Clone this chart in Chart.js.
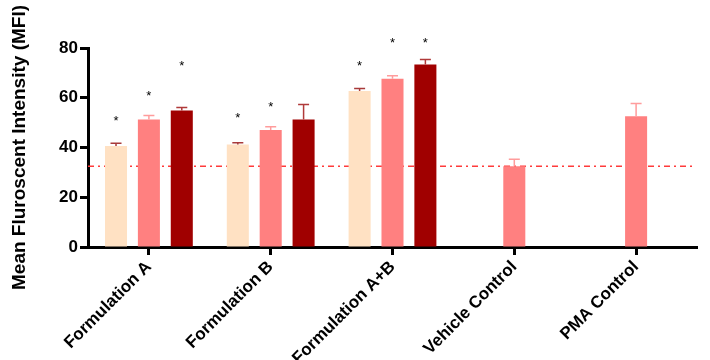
<!DOCTYPE html>
<html lang="en">
<head>
  <meta charset="UTF-8">
  <title>Mean Fluorescent Intensity</title>
  <script src="https://cdn.jsdelivr.net/npm/chart.js"></script>
  <style>
    body { margin: 0; background: #fff; }
    .wrap { width: 710px; height: 360px; }
  </style>
</head>
<body>
<div class="wrap"><canvas id="mfiChart"></canvas></div>
<script>
// values
const categories = ['Formulation A', 'Formulation B', 'Formulation A+B', 'Vehicle Control', 'PMA Control'];
const lowDose  = [40.6, 41.2, 62.7, null, null];
const midDose  = [51.3, 47.0, 67.6, 32.5, 52.6];
const highDose = [54.9, 51.3, 73.4, null, null];
const lowErr  = [1.1, 0.7, 1.0, null, null];
const midErr  = [1.6, 1.3, 1.2, 2.8, 5.1];
const highErr = [1.2, 6.0, 2.0, null, null];
const lowStar  = [51.8, 53.0, 73.6, null, null];
const midStar  = [61.7, 57.5, 83.1, null, null];
const highStar = [74.0, null, 83.1, null, null];
const baseline = 32.5;
const yTicks = [0, 20, 40, 60, 80];

const FONT = "'Liberation Sans', Arial, sans-serif";

// dash-dot reference line, behind the bars
const refLine = {
  id: 'refLine',
  beforeDatasetsDraw(chart) {
    const { ctx, chartArea, scales } = chart;
    const y = scales.y.getPixelForValue(baseline);
    ctx.save();
    ctx.strokeStyle = '#ff3b3b';
    ctx.lineWidth = 1.5;
    ctx.setLineDash([6, 4, 2, 4]);
    ctx.beginPath();
    ctx.moveTo(chartArea.left, y);
    ctx.lineTo(chartArea.right - 2, y);
    ctx.stroke();
    ctx.restore();
  }
};

// upper error bars and significance stars
const errorBars = {
  id: 'errorBars',
  afterDatasetsDraw(chart) {
    const { ctx, scales } = chart;
    ctx.save();
    chart.data.datasets.forEach((ds, i) => {
      const meta = chart.getDatasetMeta(i);
      meta.data.forEach((bar, j) => {
        const v = ds.data[j];
        if (v == null) return;
        const e = ds.errors[j];
        if (e != null) {
          const y0 = scales.y.getPixelForValue(v);
          const y1 = scales.y.getPixelForValue(v + e);
          ctx.strokeStyle = ds.errColor;
          ctx.lineWidth = 1.5;
          ctx.beginPath();
          ctx.moveTo(bar.x, y0);
          ctx.lineTo(bar.x, y1);
          ctx.moveTo(bar.x - 5.5, y1);
          ctx.lineTo(bar.x + 5.5, y1);
          ctx.stroke();
        }
        const s = ds.stars[j];
        if (s != null) {
          ctx.fillStyle = '#000';
          ctx.font = '13px ' + FONT;
          ctx.textAlign = 'center';
          ctx.textBaseline = 'middle';
          ctx.fillText('*', bar.x, scales.y.getPixelForValue(s) + 3);
        }
      });
    });
    ctx.restore();
  }
};

new Chart(document.getElementById('mfiChart'), {
  type: 'bar',
  data: {
    labels: categories,
    datasets: [
      { data: lowDose, errors: lowErr, stars: lowStar, backgroundColor: '#ffe1c3', errColor: '#a83a3a' },
      { data: midDose, errors: midErr, stars: midStar, backgroundColor: '#ff8080', errColor: '#ff9c9c' },
      { data: highDose, errors: highErr, stars: highStar, backgroundColor: '#a00000', errColor: '#b03a3a' }
    ]
  },
  options: {
    responsive: true,
    maintainAspectRatio: false,
    animation: false,
    categoryPercentage: 0.81,
    barPercentage: 0.67,
    layout: { padding: { top: 48, right: 13, left: 0, bottom: 0 } },
    plugins: { legend: { display: false }, tooltip: { enabled: false } },
    scales: {
      x: {
        grid: { display: true, offset: false, drawOnChartArea: false, drawTicks: true, tickLength: 8, tickWidth: 3, tickColor: '#000' },
        border: { color: '#000', width: 3 },
        ticks: {
          color: '#000',
          font: { family: FONT, size: 17, weight: 'bold' },
          minRotation: 45, maxRotation: 45, padding: 2
        },
        afterFit(scale) { scale.height = 113; }
      },
      y: {
        min: 0, max: 80,
        afterBuildTicks(scale) { scale.ticks = yTicks.map(v => ({ value: v })); },
        grid: { display: true, drawOnChartArea: false, drawTicks: true, tickLength: 8, tickWidth: 3, tickColor: '#000' },
        border: { color: '#000', width: 3 },
        ticks: {
          color: '#000',
          font: { family: FONT, size: 17, weight: 'bold' },
          padding: 2
        },
        title: {
          display: true,
          text: 'Mean Fluroscent Intensity (MFI)',
          color: '#000',
          font: { family: FONT, size: 19, weight: 'bold' },
          padding: { top: 8, bottom: 1 }
        },
        afterFit(scale) { scale.width = 88; }
      }
    }
  },
  plugins: [refLine, errorBars]
});
</script>
</body>
</html>
